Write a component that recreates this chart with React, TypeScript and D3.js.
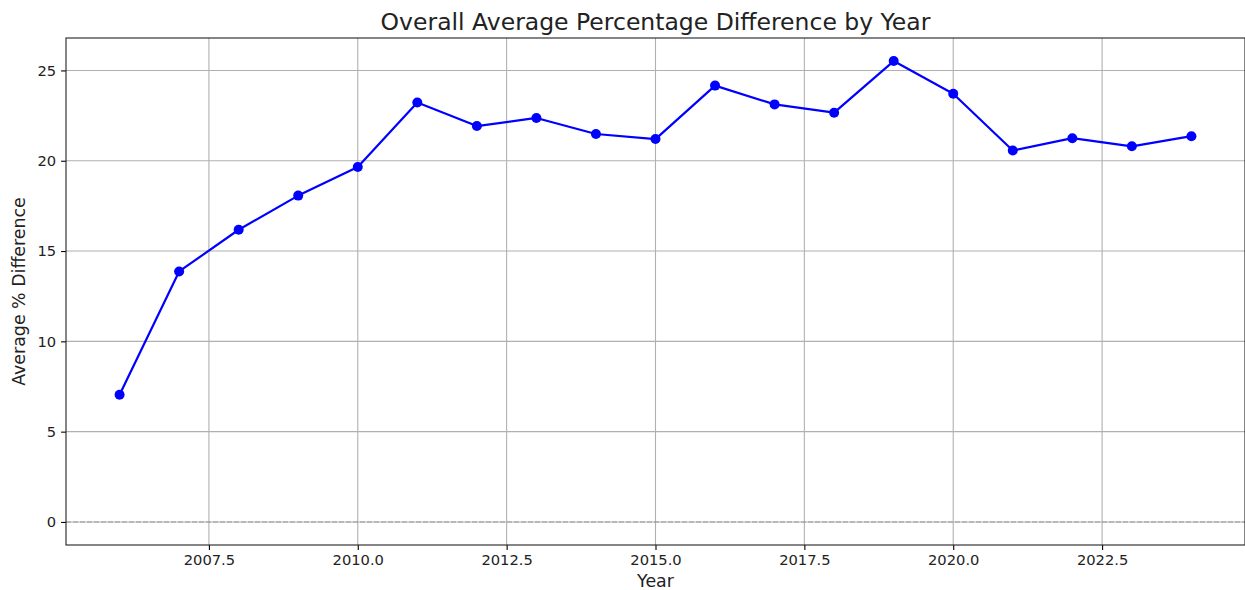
import React, { useEffect, useRef } from 'react';
import * as d3 from 'd3';

const years = [2006, 2007, 2008, 2009, 2010, 2011, 2012, 2013, 2014, 2015, 2016, 2017, 2018, 2019, 2020, 2021, 2022, 2023, 2024];
const avgDiff = [7.04, 13.87, 16.18, 18.07, 19.65, 23.22, 21.92, 22.37, 21.48, 21.2, 24.16, 23.12, 22.66, 25.52, 23.71, 20.57, 21.25, 20.8, 21.36];
const xTicks = [2007.5, 2010.0, 2012.5, 2015.0, 2017.5, 2020.0, 2022.5];
const yTicks = [0, 5, 10, 15, 20, 25];

const App: React.FC = () => {
    const svgRef = useRef<SVGSVGElement>(null);

    useEffect(() => {
        d3.select(svgRef.current).selectAll('*').remove();

        const width = 1245;
        const height = 590;
        const margin = { top: 38, right: 0, bottom: 45, left: 66 };
        const innerW = width - margin.left - margin.right;
        const innerH = height - margin.top - margin.bottom;
        const font = 'DejaVu Sans, sans-serif';

        const svg = d3.select(svgRef.current)
            .attr('width', width)
            .attr('height', height)
            .style('background', '#ffffff');

        const data = years.map((y, i) => ({ year: y, value: avgDiff[i] }));

        // matplotlib-style 5% padding
        const xPad = (d3.max(years)! - d3.min(years)!) * 0.05;
        const x = d3.scaleLinear()
            .domain([d3.min(years)! - xPad, d3.max(years)! + xPad])
            .range([0, innerW]);

        const yMax = d3.max(avgDiff)!;
        const yPad = yMax * 0.05;
        const y = d3.scaleLinear()
            .domain([0 - yPad, yMax + yPad])
            .range([innerH, 0]);

        const g = svg.append('g')
            .attr('transform', `translate(${margin.left},${margin.top})`);

        // Grid
        g.append('g')
            .selectAll('line')
            .data(xTicks)
            .join('line')
            .attr('x1', d => x(d)).attr('x2', d => x(d))
            .attr('y1', 0).attr('y2', innerH)
            .attr('stroke', '#b0b0b0')
            .attr('stroke-width', 1.1);

        g.append('g')
            .selectAll('line')
            .data(yTicks)
            .join('line')
            .attr('x1', 0).attr('x2', innerW)
            .attr('y1', d => y(d)).attr('y2', d => y(d))
            .attr('stroke', '#b0b0b0')
            .attr('stroke-width', 1.1);

        // zero line
        g.append('line')
            .attr('x1', 0).attr('x2', innerW)
            .attr('y1', y(0)).attr('y2', y(0))
            .attr('stroke', '#808080')
            .attr('stroke-opacity', 0.7)
            .attr('stroke-width', 1.1)
            .attr('stroke-dasharray', '5,2');

        // X Axis
        const xAxis = g.append('g')
            .attr('transform', `translate(0,${innerH})`)
            .call(d3.axisBottom(x).tickValues(xTicks).tickFormat(d3.format('.1f')).tickSizeOuter(0).tickSize(4.9).tickPadding(4.9));
        xAxis.select('.domain').remove();
        xAxis.selectAll('line').attr('stroke', '#000').attr('stroke-width', 1.1);
        xAxis.selectAll('text')
            .style('font-family', font)
            .style('font-size', '14.7px')
            .style('fill', '#222');

        // Y Axis
        const yAxis = g.append('g')
            .call(d3.axisLeft(y).tickValues(yTicks).tickFormat(d3.format('d')).tickSizeOuter(0).tickSize(4.9).tickPadding(4.9));
        yAxis.select('.domain').remove();
        yAxis.selectAll('line').attr('stroke', '#000').attr('stroke-width', 1.1);
        yAxis.selectAll('text')
            .style('font-family', font)
            .style('font-size', '14.7px')
            .style('fill', '#222');

        // Spines
        g.append('rect')
            .attr('x', 0).attr('y', 0)
            .attr('width', innerW).attr('height', innerH)
            .attr('fill', 'none')
            .attr('stroke', '#222')
            .attr('stroke-width', 1.1);

        // Line
        g.append('path')
            .datum(data)
            .attr('fill', 'none')
            .attr('stroke', '#0000ff')
            .attr('stroke-width', 2.2)
            .attr('stroke-linejoin', 'round')
            .attr('d', d3.line<{ year: number; value: number }>()
                .x(d => x(d.year))
                .y(d => y(d.value))
            );

        g.append('g')
            .selectAll('circle')
            .data(data)
            .join('circle')
            .attr('cx', d => x(d.year))
            .attr('cy', d => y(d.value))
            .attr('r', 5)
            .attr('fill', '#0000ff');

        // Title and labels
        svg.append('text')
            .attr('x', margin.left + innerW / 2)
            .attr('y', 29.5)
            .attr('text-anchor', 'middle')
            .style('font-family', font)
            .style('font-size', '23.5px')
            .style('fill', '#222')
            .text('Overall Average Percentage Difference by Year');

        svg.append('text')
            .attr('x', margin.left + innerW / 2)
            .attr('y', 587)
            .attr('text-anchor', 'middle')
            .style('font-family', font)
            .style('font-size', '17.4px')
            .style('fill', '#222')
            .text('Year');

        svg.append('text')
            .attr('transform', `translate(25,${margin.top + innerH / 2}) rotate(-90)`)
            .attr('text-anchor', 'middle')
            .style('font-family', font)
            .style('font-size', '17.4px')
            .style('fill', '#222')
            .text('Average % Difference');
    }, []);

    return <svg ref={svgRef} style={{ position: 'absolute', left: 0, top: 0 }}></svg>;
};

export default App;
